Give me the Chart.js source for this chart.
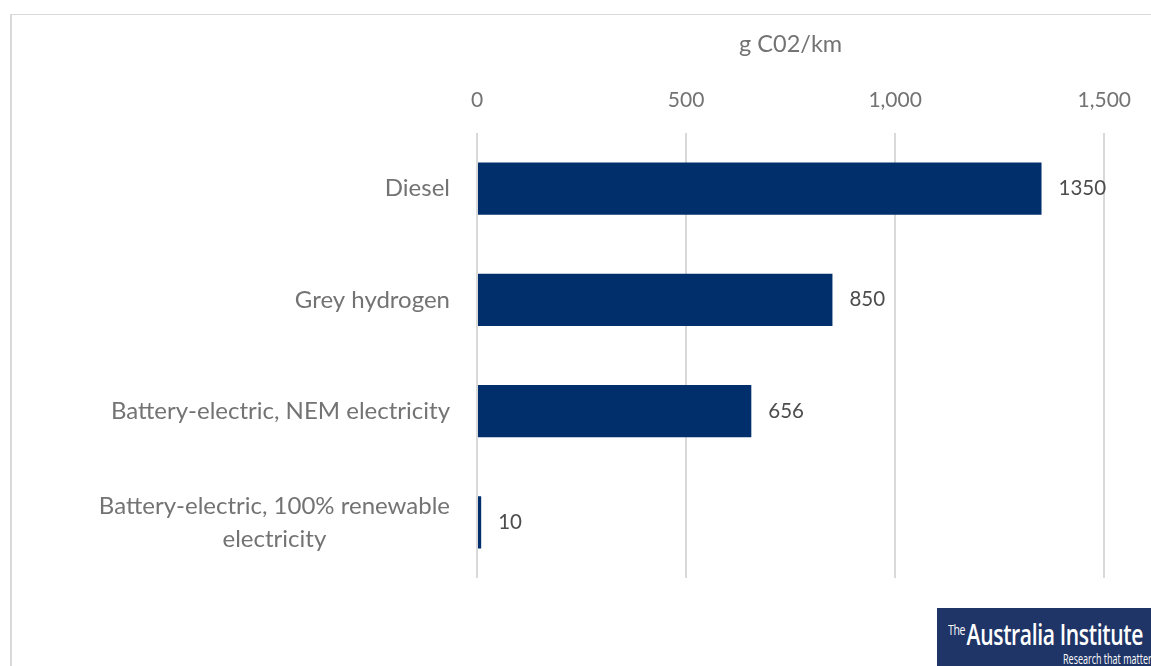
<!DOCTYPE html>
<html>
<head>
<meta charset="utf-8">
<script src="https://cdn.jsdelivr.net/npm/chart.js@4/dist/chart.umd.min.js"></script>
<style>
  html, body { margin: 0; padding: 0; background: #fff; }
  #wrap { position: relative; width: 1151px; height: 666px; overflow: hidden; }
  #frame { position: absolute; left: 10px; top: 14px; right: -5px; bottom: -5px;
           border-top: 1px solid #d9d9d9; border-left: 2px solid #d9d9d9; }
  canvas { position: absolute; left: 0; top: 0; }
  #logo { position: absolute; left: 937px; top: 608px; width: 220px; height: 60px;
          background: #1f3568; color: #fff; font-family: "Open Sans", sans-serif; overflow: hidden; }
  #logo .main { position: absolute; left: 11px; top: 7px; font-size: 28px; font-weight: 600;
                letter-spacing: -0.5px; white-space: nowrap; transform-origin: 0 0; }
  #logo .main sup { font-size: 14px; font-weight: 400; letter-spacing: -0.5px; vertical-align: 10px; margin-right: 2px; }
  #logo .sub { position: absolute; left: 126px; top: 41px; font-size: 14px; white-space: nowrap; transform-origin: 0 0; }
</style>
</head>
<body>
<div id="wrap">
  <div id="frame"></div>
  <canvas id="c" width="1151" height="666"></canvas>
  <div id="logo"><div class="main"><sup>The</sup>Australia Institute</div><div class="sub">Research that matters</div></div>
</div>
<script>
// Condensed wordmark: squeeze each line horizontally to its set width
function squeeze(el, target) {
  const w = el.getBoundingClientRect().width;
  el.style.transform = "scaleX(" + (target / w) + ")";
}
squeeze(document.querySelector("#logo .main"), 195);
squeeze(document.querySelector("#logo .sub"), 93);

// Emissions per kilometre by drivetrain
const categories = [
  ["Diesel"],
  ["Grey hydrogen"],
  ["Battery-electric, NEM electricity"],
  ["Battery-electric, 100% renewable", "electricity"]
];
const emissions = [1350, 850, 656, 10];
const axisTitle = "g C02/km";
const xTicks = [0, 500, 1000, 1500];

const FONT = "Lato, 'Open Sans', sans-serif";
const GREY = "#737373";

// Category names: block right-aligned to the axis, lines centred within the block
const categoryLabels = {
  id: "categoryLabels",
  afterDraw(chart) {
    const ctx = chart.ctx;
    const y = chart.scales.y;
    ctx.save();
    ctx.font = "24px " + FONT;
    ctx.fillStyle = GREY;
    ctx.textBaseline = "middle";
    ctx.textAlign = "center";
    const right = chart.chartArea.left - 27;
    const lh = 33;
    categories.forEach((lines, i) => {
      const cy = y.getPixelForValue(i);
      const w = Math.max(...lines.map(l => ctx.measureText(l).width));
      const cx = right - w / 2;
      const y0 = cy - (lines.length - 1) * lh / 2;
      lines.forEach((l, k) => ctx.fillText(l, cx, y0 + k * lh));
    });
    ctx.restore();
  }
};

// Value labels just past the end of each bar
const valueLabels = {
  id: "valueLabels",
  afterDatasetsDraw(chart) {
    const ctx = chart.ctx;
    const meta = chart.getDatasetMeta(0);
    ctx.save();
    ctx.font = "20.5px " + FONT;
    ctx.fillStyle = "#4d4d4d";
    ctx.textBaseline = "middle";
    ctx.textAlign = "left";
    meta.data.forEach((bar, i) => {
      ctx.fillText(String(emissions[i]), bar.x + 17, bar.y);
    });
    ctx.restore();
  }
};

new Chart(document.getElementById("c"), {
  type: "bar",
  data: {
    labels: categories.map(l => l.join(" ")),
    datasets: [{
      data: emissions,
      backgroundColor: "#002f6c",
      barPercentage: 0.94,
      categoryPercentage: 0.5
    }]
  },
  options: {
    indexAxis: "y",
    responsive: false,
    animation: false,
    layout: { padding: { left: 477, right: 44, top: 0, bottom: 88 } },
    plugins: { legend: { display: false }, tooltip: { enabled: false } },
    scales: {
      x: {
        position: "top",
        min: 0, max: 1500,
        afterBuildTicks(scale) { scale.ticks = xTicks.map(v => ({ value: v })); },
        afterFit(scale) { scale.height = 133; },
        border: { display: false },
        grid: { color: "#d9d9d9", lineWidth: 2, drawTicks: false },
        ticks: {
          padding: 20,
          color: GREY,
          font: { family: FONT, size: 21 },
          callback: v => v.toLocaleString("en-US")
        },
        title: {
          display: true,
          text: axisTitle,
          color: GREY,
          font: { family: FONT, size: 23.5 },
          padding: { top: 30, bottom: 0 }
        }
      },
      y: { display: false }
    }
  },
  plugins: [categoryLabels, valueLabels]
});
</script>
</body>
</html>
